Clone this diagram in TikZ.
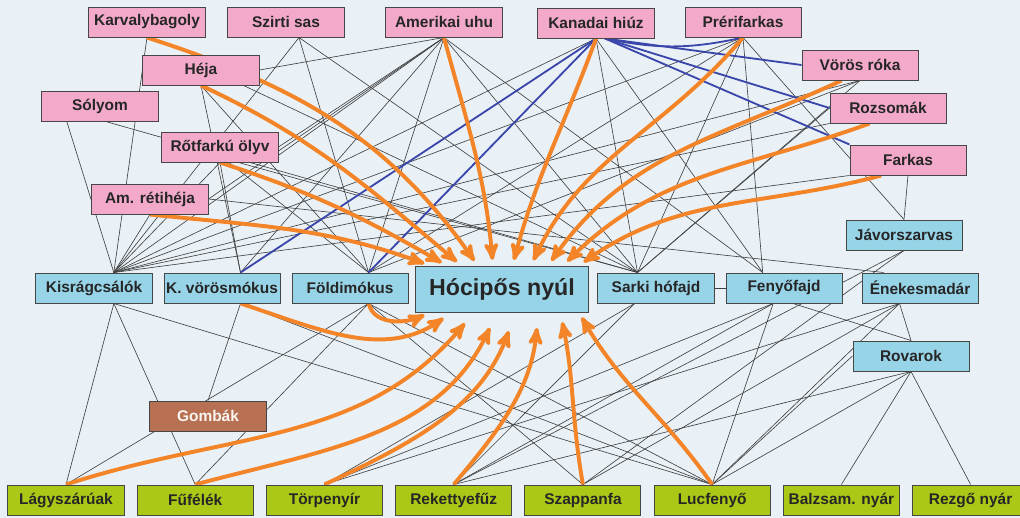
\documentclass[tikz,border=0pt]{standalone}
\usepackage{fontspec}
\setmainfont{Liberation Sans}
\usetikzlibrary{arrows}

\definecolor{bgblue}{RGB}{233,241,247}
\definecolor{predpink}{RGB}{243,170,202}
\definecolor{preyblue}{RGB}{152,212,232}
\definecolor{plantgreen}{RGB}{172,200,22}
\definecolor{fungibrown}{RGB}{183,112,82}
\definecolor{feedorange}{RGB}{243,132,40}
\definecolor{rivalblue}{RGB}{58,70,170}
\definecolor{boxline}{RGB}{70,70,70}

\pgfdeclarelayer{bg}
\pgfdeclarelayer{links}
\pgfsetlayers{bg,links,main}

\begin{document}
\begin{tikzpicture}[x=0.025cm,y=-0.025cm,>=stealth',node distance=3.23cm,
    box/.style={rectangle,draw=boxline,line width=0.7pt,minimum width=2.9cm,
      minimum height=0.75cm,inner sep=1pt,text=black!85,
      font=\fontsize{11}{13}\selectfont\bfseries},
    pred node/.style={box,fill=predpink},
    prey node/.style={box,fill=preyblue},
    plant node/.style={box,fill=plantgreen},
    fungi node/.style={box,fill=fungibrown,text=white!92!brown},
    hare node/.style={box,fill=preyblue,minimum width=4.33cm,minimum height=1.15cm,
      font=\fontsize{16.5}{19}\selectfont\bfseries},
    web/.style={draw=black!75,line width=0.45pt},
    rival/.style={draw=rivalblue,line width=1.3pt},
    feed/.style={->,draw=feedorange,line width=2.8pt,shorten >=4pt}]

  \useasboundingbox (0,0) rectangle (1020,518);
  \begin{pgfonlayer}{bg}
    \fill[bgblue] (0,0) rectangle (1020,518);
  \end{pgfonlayer}

  % predators
  \node[pred node] (karv) at (147,22) {Karvalybagoly};
  \node[pred node] (szirti) at (286,22) {Szirti sas};
  \node[pred node] (uhu) at (444,22) {Amerikai uhu};
  \node[pred node] (hiuz) at (596,23) {Kanadai hiúz};
  \node[pred node] (prer) at (743,22) {Prérifarkas};
  \node[pred node] (voros) at (860,65) {Vörös róka};
  \node[pred node] (rozs) at (888,108) {Rozsomák};
  \node[pred node] (farkas) at (908,160) {Farkas};
  \node[pred node] (heja) at (201,70) {Héja};
  \node[pred node] (solyom) at (100,106) {Sólyom};
  \node[pred node] (rotf) at (220,147) {Rőtfarkú ölyv};
  \node[pred node] (amret) at (150,199) {Am. rétihéja};

  % middle row
  \node[prey node] (kis) at (94,288) {Kisrágcsálók};
  \node[prey node] (kvm) [right of=kis, node distance=3.2cm] {K. vörösmókus};
  \node[prey node] (fold) [right of=kvm, node distance=3.2cm] {Földimókus};
  \node[hare node] (hare) at (502,289) {Hócipős nyúl};
  \node[prey node] (sarki) at (656,288) {Sarki hófajd};
  \node[prey node] (feny) [right of=sarki, node distance=3.2cm] {Fenyőfajd};
  \node[prey node] (enek) [right of=feny, node distance=3.4cm] {Énekesmadár};
  \node[prey node] (javor) at (904,235) {Jávorszarvas};
  \node[prey node] (rov) at (911,356) {Rovarok};
  \node[fungi node] (gomb) at (208,416) {Gombák};

  % plants
  \node[plant node] (lagy) at (66,500) {Lágyszárúak};
  \node[plant node] (fufe) [right of=lagy] {Fűfélék};
  \node[plant node] (torpe) [right of=fufe] {Törpenyír};
  \node[plant node] (reket) [right of=torpe] {Rekettyefűz};
  \node[plant node] (szap) [right of=reket] {Szappanfa};
  \node[plant node] (luc) [right of=szap] {Lucfenyő};
  \node[plant node] (balz) [right of=luc] {Balzsam. nyár};
  \node[plant node] (rezgo) [right of=balz] {Rezgő nyár};

  \begin{pgfonlayer}{links}
  % who eats whom, upper half
  \path[every edge/.style={web}]
    (karv.south) edge (kis.38)
    (solyom.-155) edge (kis.38)
    (solyom.-70) edge (sarki.140)
    (amret.south) edge (kis.38)
    (amret.east) edge (enek.157)
    (amret.east) edge (uhu.south)
    (heja.south) edge (kvm.40)
    (heja.south) edge (fold.40)
    (heja.-20) edge (sarki.140)
    (heja.east) edge (uhu.south)
    (rotf.south) edge (kvm.40)
    (rotf.south) edge (kis.38)
    (rotf.-60) edge (fold.40)
    (rotf.-40) edge (sarki.140)
    (rotf.east) edge (uhu.south)
    (szirti.-50) edge (kis.38)
    (szirti.-50) edge (fold.40)
    (szirti.-50) edge (sarki.140)
    (uhu.south) edge (kis.38)
    (uhu.south) edge (kvm.40)
    (uhu.south) edge (fold.40)
    (uhu.south) edge (sarki.140)
    (uhu.south) edge (feny.144)
    (hiuz.south) edge (kis.38)
    (hiuz.south) edge (sarki.140)
    (hiuz.south) edge (feny.144)
    (prer.south) edge (kis.38)
    (prer.south) edge (fold.40)
    (prer.south) edge (sarki.140)
    (prer.south) edge (feny.144)
    (prer.south) edge (javor.north)
    (voros.south) edge (kis.38)
    (voros.south) edge (fold.40)
    (voros.south) edge (sarki.140)
    (rozs.west) edge (sarki.140)
    (rozs.south west) edge (kis.38)
    (farkas.south) edge (javor.north)
    (farkas.south west) edge (kis.38);

  % lower half
  \path[every edge/.style={web}]
    (kis.-38) edge (lagy.north)
    (kis.-38) edge (fufe.north)
    (kis.-38) edge (luc.north)
    (kvm.-40) edge (gomb.north)
    (kvm.-40) edge (luc.north)
    (fold.-40) edge (lagy.north)
    (fold.-40) edge (fufe.north)
    (fold.-40) edge (luc.north)
    (fold.-40) edge (szap.north)
    (sarki.-144) edge (reket.north)
    (sarki.-144) edge (torpe.north)
    (sarki.east) edge (feny.west)
    (feny.-125) edge (luc.north)
    (feny.-125) edge (torpe.north)
    (feny.-125) edge (reket.north)
    (feny.-60) edge (rov.north)
    (enek.-143) edge (rov.north)
    (enek.-143) edge (luc.north)
    (enek.-143) edge (torpe.north)
    (enek.-143) edge (szap.north)
    (rov.south) edge (luc.north)
    (rov.south) edge (balz.north)
    (rov.south) edge (rezgo.north)
    (rov.south) edge (reket.north)
    (rov.west) edge (luc.north)
    (javor.south) edge (reket.north)
    (javor.south) edge (szap.north);

  % the lynx and its rivals
  \path[every edge/.style={rival}]
    (hiuz.south) edge (kvm.40)
    (hiuz.south) edge (fold.40)
    (hiuz.-60) edge[bend right=12] (prer.south)
    (hiuz.-60) edge (voros.west)
    (hiuz.-60) edge (rozs.west)
    (hiuz.-60) edge (farkas.north west);

  % arrows into the hare
  \path[every edge/.style={feed}]
    (amret.south) edge[out=-6,in=160] (hare.162)
    (rotf.south) edge[out=-18,in=150] (hare.157)
    (heja.south) edge[out=-25,in=140] (hare.150)
    (karv.south) edge[out=-18,in=125] (hare.136)
    (uhu.south) edge[out=-75,in=95] (hare.111)
    (hiuz.south) edge[out=-110,in=75] (hare.66)
    (prer.south) edge[out=-130,in=65] (hare.39)
    (voros.-140) edge[out=-155,in=55] (hare.27)
    (rozs.-140) edge[out=-160,in=45] (hare.21)
    (farkas.-150) edge[out=-165,in=35] (hare.17);
  \path[every edge/.style={feed}]
    (fold.-40) edge[out=-75,in=-155] (hare.198)
    (kvm.-40) edge[out=-18,in=-145,shorten >=7pt] (hare.205)
    (lagy.north) edge[out=18,in=-130,shorten >=10pt] (hare.220)
    (fufe.north) edge[out=15,in=-115,shorten >=12pt] (hare.258)
    (torpe.north) edge[out=25,in=-110,shorten >=14pt] (hare.-60)
    (reket.north) edge[out=50,in=-95,shorten >=11pt] (hare.-33)
    (szap.north) edge[out=100,in=-78,shorten >=7pt] (hare.-22)
    (luc.north) edge[out=125,in=-60] (hare.-17);
  \end{pgfonlayer}

\end{tikzpicture}
\end{document}
